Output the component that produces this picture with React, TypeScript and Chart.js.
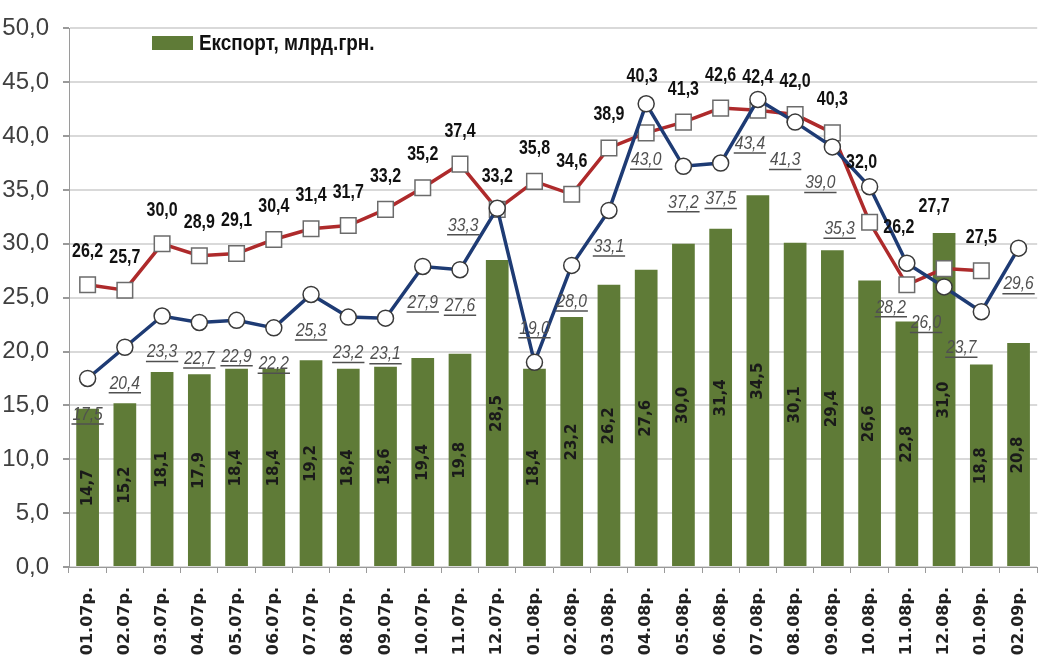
import React, { useEffect, useRef } from "react";
import { Chart, registerables } from "chart.js";

Chart.register(...registerables);

const categories = [
  "01.07р.", "02.07р.", "03.07р.", "04.07р.", "05.07р.", "06.07р.", "07.07р.", "08.07р.", "09.07р.",
  "10.07р.", "11.07р.", "12.07р.", "01.08р.", "02.08р.", "03.08р.", "04.08р.", "05.08р.", "06.08р.",
  "07.08р.", "08.08р.", "09.08р.", "10.08р.", "11.08р.", "12.08р.", "01.09р.", "02.09р.",
];

const exportValues = [
  14.7, 15.2, 18.1, 17.9, 18.4, 18.4, 19.2, 18.4, 18.6, 19.4, 19.8, 28.5, 18.4,
  23.2, 26.2, 27.6, 30.0, 31.4, 34.5, 30.1, 29.4, 26.6, 22.8, 31.0, 18.8, 20.8,
];

const redValues: (number | null)[] = [
  26.2, 25.7, 30.0, 28.9, 29.1, 30.4, 31.4, 31.7, 33.2, 35.2, 37.4, 33.2, 35.8,
  34.6, 38.9, 40.3, 41.3, 42.6, 42.4, 42.0, 40.3, 32.0, 26.2, 27.7, 27.5, null,
];

const blueValues = [
  17.5, 20.4, 23.3, 22.7, 22.9, 22.2, 25.3, 23.2, 23.1, 27.9, 27.6, 33.3, 19.0,
  28.0, 33.1, 43.0, 37.2, 37.5, 43.4, 41.3, 39.0, 35.3, 28.2, 26.0, 23.7, 29.6,
];

const legendLabel = "Експорт, млрд.грн.";

const BAR_COLOR = "#5f7b37";
const RED = "#ae2a2b";
const BLUE = "#1e3b74";

const fmt = (v: number) => v.toFixed(1).replace(".", ",");

// label placement tweaks (pixel offsets) mimicking the reference
const redLabelShift: Record<number, [number, number]> = {
  15: [-4, -56],
  21: [-8, -60],
  22: [-8, -57],
  23: [-10, -62],
};
const blueLabelShift: Record<number, [number, number]> = {
  11: [-34, 17],
  12: [0, -34],
  15: [0, 56],
  18: [-8, 44],
  19: [-10, 38],
  20: [-12, 36],
  21: [-30, 42],
  22: [-16, 44],
  23: [-18, 36],
  24: [-20, 36],
};

function drawText(
  ctx: CanvasRenderingContext2D,
  text: string,
  x: number,
  y: number,
  font: string,
  color: string,
  sx = 1,
  rotate = false
) {
  ctx.save();
  ctx.translate(x, y);
  if (rotate) ctx.rotate(-Math.PI / 2);
  ctx.scale(sx, 1);
  ctx.font = font;
  ctx.fillStyle = color;
  ctx.textAlign = "center";
  ctx.textBaseline = "middle";
  ctx.fillText(text, 0, 0);
  const w = ctx.measureText(text).width * sx;
  ctx.restore();
  return w;
}

const labelPlugin = {
  id: "customLabels",
  afterDatasetsDraw(chart: any) {
    const ctx: CanvasRenderingContext2D = chart.ctx;
    const barMeta = chart.getDatasetMeta(0);
    const redMeta = chart.getDatasetMeta(1);
    const blueMeta = chart.getDatasetMeta(2);
    const yScale = chart.scales.y;

    // bar labels (rotated, centered in bar)
    barMeta.data.forEach((el: any, i: number) => {
      const v = exportValues[i];
      const mid = (el.y + yScale.getPixelForValue(0)) / 2;
      drawText(ctx, fmt(v), el.x, mid, "bold 15px 'DejaVu Sans', sans-serif", "#1a1a1a", 1, true);
    });

    // red labels above
    redMeta.data.forEach((el: any, i: number) => {
      const v = redValues[i];
      if (v === null || v === undefined) return;
      const [dx, dy] = redLabelShift[i] || [0, -33];
      drawText(ctx, fmt(v), el.x + dx, el.y + dy, "bold 20px 'Liberation Sans', Arial, sans-serif", "#111", 0.8);
    });

    // blue labels below, italic underlined
    blueMeta.data.forEach((el: any, i: number) => {
      const v = blueValues[i];
      const [dx, dy] = blueLabelShift[i] || [0, 36];
      const x = el.x + dx;
      const y = el.y + dy;
      const w = drawText(ctx, fmt(v), x, y, "italic 19px 'Liberation Sans', Arial, sans-serif", "#505050", 0.82);
      ctx.save();
      ctx.strokeStyle = "#505050";
      ctx.lineWidth = 1.5;
      ctx.beginPath();
      ctx.moveTo(x - w / 2 - 1, y + 9.5);
      ctx.lineTo(x + w / 2 + 1, y + 9.5);
      ctx.stroke();
      ctx.restore();
    });

    // legend
    ctx.save();
    ctx.fillStyle = BAR_COLOR;
    ctx.fillRect(152, 36, 41, 14);
    ctx.restore();
    ctx.save();
    ctx.translate(199, 44);
    ctx.scale(0.86, 1);
    ctx.font = "bold 22px 'Liberation Sans', Arial, sans-serif";
    ctx.fillStyle = "#111";
    ctx.textAlign = "left";
    ctx.textBaseline = "middle";
    ctx.fillText(legendLabel, 0, 0);
    ctx.restore();
  },
};

export default function App() {
  const canvasRef = useRef<HTMLCanvasElement | null>(null);

  useEffect(() => {
    document.body.style.margin = "0";
    document.documentElement.style.overflow = "hidden";
    document.body.style.background = "#ffffff";
    const canvas = canvasRef.current;
    if (!canvas) return;
    const chart = new Chart(canvas, {
      type: "bar",
      data: {
        labels: categories,
        datasets: [
          {
            type: "bar",
            label: legendLabel,
            data: exportValues,
            backgroundColor: BAR_COLOR,
            borderWidth: 0,
            barPercentage: 0.61,
            categoryPercentage: 1,
            order: 3,
          },
          {
            type: "line",
            label: "red",
            data: redValues,
            borderColor: RED,
            borderWidth: 3.5,
            pointStyle: "rect",
            pointRadius: 11,
            pointBackgroundColor: "#ffffff",
            pointBorderColor: "#6b6b6b",
            pointBorderWidth: 1.5,
            spanGaps: false,
            order: 2,
          } as any,
          {
            type: "line",
            label: "blue",
            data: blueValues,
            borderColor: BLUE,
            borderWidth: 3.5,
            pointStyle: "circle",
            pointRadius: 8,
            pointBackgroundColor: "#ffffff",
            pointBorderColor: "#3a3a3a",
            pointBorderWidth: 1.5,
            order: 1,
          } as any,
        ],
      },
      options: {
        responsive: false,
        animation: false,
        devicePixelRatio: 1,
        layout: { padding: { top: 24, right: 0, bottom: 0, left: 0 } },
        plugins: {
          legend: { display: false },
          tooltip: { enabled: false },
        },
        scales: {
          x: {
            type: "category",
            offset: true,
            grid: {
              display: true,
              drawOnChartArea: false,
              drawTicks: true,
              tickLength: 6,
              color: "#9a9a9a",
              offset: true,
            },
            border: { display: true, color: "#9a9a9a", width: 1 },
            ticks: {
              autoSkip: false,
              minRotation: 90,
              maxRotation: 90,
              padding: 14,
              color: "#222222",
              font: { family: "'DejaVu Sans', sans-serif", size: 16, weight: "bold" },
            },
            afterFit: (scale: any) => {
              scale.height = 94;
            },
          },
          y: {
            min: 0,
            max: 50,
            ticks: {
              stepSize: 5,
              padding: 14,
              color: "#404040",
              font: { family: "'Liberation Sans Narrow', 'Liberation Sans', Arial, sans-serif", size: 24 },
              callback: (v: any) => fmt(Number(v)),
            },
            grid: {
              color: "#d9d9d9",
              lineWidth: 2,
              tickLength: 6,
              tickColor: "#9a9a9a",
            } as any,
            border: { display: true, color: "#9a9a9a", width: 1 },
            afterFit: (scale: any) => {
              scale.width = 69;
            },
          },
        },
      } as any,
      plugins: [labelPlugin],
    });
    return () => chart.destroy();
  }, []);

  return (
    <div style={{ width: 1044, height: 661, overflow: "hidden", position: "relative", background: "#fff" }}>
      <canvas ref={canvasRef} width={1052} height={661} style={{ display: "block", width: 1052, height: 661 }} />
    </div>
  );
}
